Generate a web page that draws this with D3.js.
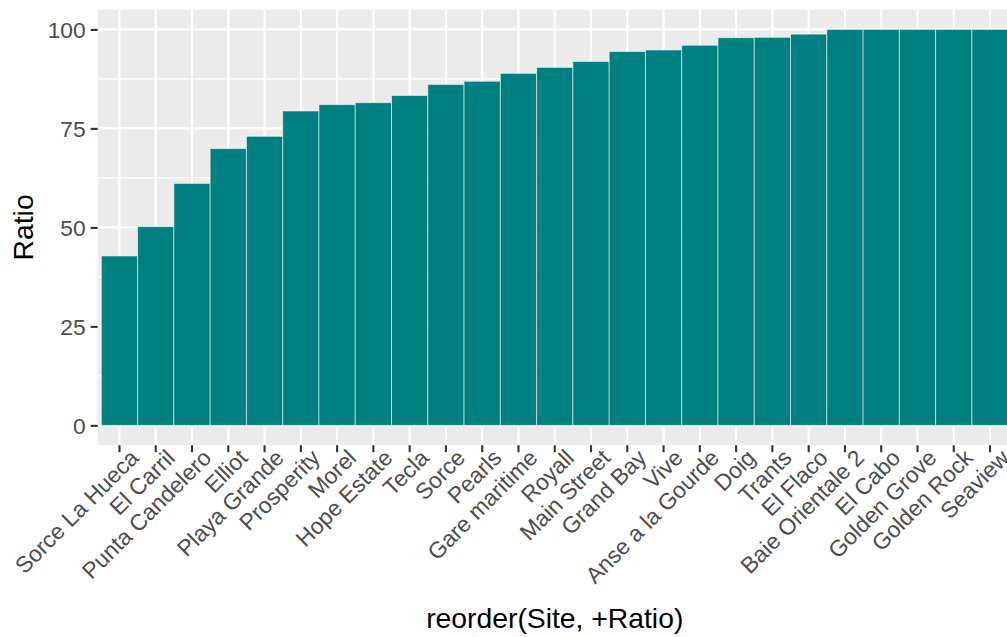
<!DOCTYPE html>
<html>
<head>
<meta charset="utf-8">
<script src="https://cdn.jsdelivr.net/npm/d3@7"></script>
<style>
  html, body { margin: 0; padding: 0; background: #fff; }
  svg { display: block; font-family: "Liberation Sans", Arial, sans-serif; }
</style>
</head>
<body>
<svg id="chart" width="1007" height="637"></svg>
<script>
const sites = ["Sorce La Hueca", "El Carril", "Punta Candelero", "Elliot", "Playa Grande",
  "Prosperity", "Morel", "Hope Estate", "Tecla", "Sorce", "Pearls", "Gare maritime",
  "Royall", "Main Street", "Grand Bay", "Vive", "Anse a la Gourde", "Doig", "Trants",
  "El Flaco", "Baie Orientale 2", "El Cabo", "Golden Grove", "Golden Rock", "Seaview"];
const ratios = [42.8, 50.2, 61.1, 69.9, 73.0, 79.4, 81.0, 81.5, 83.3, 86.1, 86.9, 88.9,
  90.4, 91.9, 94.4, 94.8, 96.0, 97.9, 98.0, 98.8, 100, 100, 100, 100, 100];
const yTicks = [0, 25, 50, 75, 100];
const yMinor = [12.5, 37.5, 62.5, 87.5];
const xTitle = "reorder(Site, +Ratio)";
const yTitle = "Ratio";

const data = sites.map((s, i) => ({ site: s, ratio: ratios[i] }));

const svg = d3.select("#chart");
const panel = { left: 97.7, right: 1011.8, top: 9.6, bottom: 445.2 };
const tickFont = "22.8px";
const titleFont = "28.3px";

const x = d3.scaleBand().domain(sites).range([panel.left, panel.right])
  .paddingInner(0).paddingOuter(0.1);
const y = d3.scaleLinear().domain([-5, 105]).range([panel.bottom, panel.top]);

// panel background
svg.append("rect").attr("x", panel.left).attr("y", panel.top)
  .attr("width", panel.right - panel.left).attr("height", panel.bottom - panel.top)
  .attr("fill", "#EBEBEB");

const grid = svg.append("g");
grid.selectAll("line.minor").data(yMinor).join("line")
  .attr("x1", panel.left).attr("x2", panel.right)
  .attr("y1", d => y(d)).attr("y2", d => y(d))
  .attr("stroke", "#fff").attr("stroke-width", 1.07);
grid.selectAll("line.majy").data(yTicks).join("line")
  .attr("x1", panel.left).attr("x2", panel.right)
  .attr("y1", d => y(d)).attr("y2", d => y(d))
  .attr("stroke", "#fff").attr("stroke-width", 2.13);
grid.selectAll("line.majx").data(sites).join("line")
  .attr("y1", panel.top).attr("y2", panel.bottom)
  .attr("x1", d => x(d) + x.bandwidth() / 2).attr("x2", d => x(d) + x.bandwidth() / 2)
  .attr("stroke", "#fff").attr("stroke-width", 2.13);

// bars
svg.append("g").selectAll("rect").data(data).join("rect")
  .attr("x", d => x(d.site))
  .attr("width", x.bandwidth())
  .attr("y", d => y(d.ratio))
  .attr("height", d => y(0) - y(d.ratio))
  .attr("fill", "#008080")
  .attr("stroke", "#ffffff").attr("stroke-opacity", 0.55).attr("stroke-width", 1);

// y axis
const yAxis = svg.append("g").attr("transform", `translate(${panel.left},0)`)
  .call(d3.axisLeft(y).tickValues(yTicks).tickSize(7).tickPadding(5));
yAxis.select(".domain").remove();
yAxis.selectAll(".tick line").attr("stroke", "#333333").attr("stroke-width", 2.1);
yAxis.selectAll(".tick text").attr("fill", "#4D4D4D").attr("font-size", tickFont)
  .attr("font-family", "Liberation Sans, Arial, sans-serif").attr("dy", "0.36em");

// x axis
const xAxis = svg.append("g").attr("transform", `translate(0,${panel.bottom})`)
  .call(d3.axisBottom(x).tickSize(7).tickPadding(4));
xAxis.select(".domain").remove();
xAxis.selectAll(".tick line").attr("stroke", "#333333").attr("stroke-width", 2.1);
xAxis.selectAll(".tick text")
  .attr("fill", "#4D4D4D").attr("font-size", tickFont)
  .attr("font-family", "Liberation Sans, Arial, sans-serif")
  .attr("text-anchor", "end")
  .attr("x", 0).attr("y", 0).attr("dy", "0.75em")
  .attr("transform", "translate(8.5,2) rotate(-45)");

// titles
svg.append("text").attr("x", (panel.left + panel.right) / 2).attr("y", 628)
  .attr("text-anchor", "middle").attr("font-size", titleFont).attr("fill", "#000")
  .text(xTitle);
svg.append("text").attr("transform", `translate(32.5,${(panel.top + panel.bottom) / 2}) rotate(-90)`)
  .attr("text-anchor", "middle").attr("font-size", titleFont).attr("fill", "#000")
  .text(yTitle);
</script>
</body>
</html>
